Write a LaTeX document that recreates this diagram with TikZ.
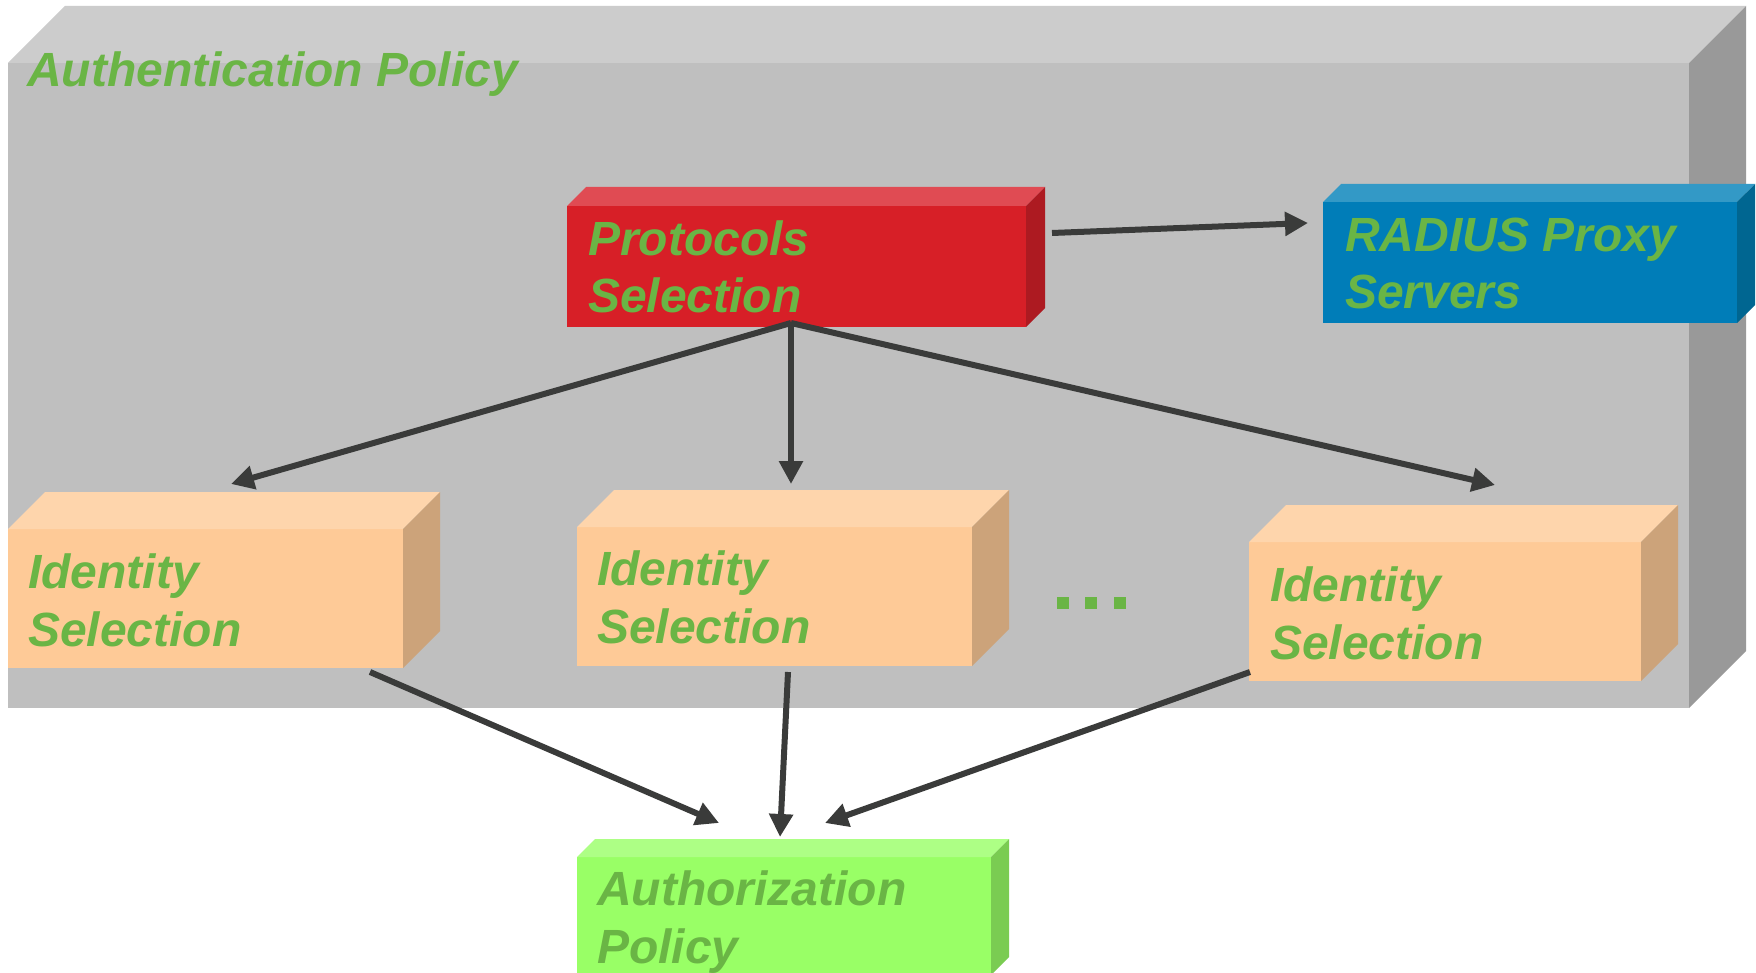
\documentclass[tikz,border=0pt]{standalone}
\usepackage{fontspec}
\setmainfont{Liberation Sans}
\usetikzlibrary{arrows.meta}
\definecolor{bigF}{HTML}{BFBFBF}
\definecolor{bigT}{HTML}{CCCCCC}
\definecolor{bigS}{HTML}{999999}
\definecolor{redF}{HTML}{D71F27}
\definecolor{redT}{HTML}{E04B53}
\definecolor{redS}{HTML}{AD1A21}
\definecolor{bluF}{HTML}{007DB8}
\definecolor{bluT}{HTML}{3399C6}
\definecolor{bluS}{HTML}{006691}
\definecolor{pchF}{HTML}{FECA97}
\definecolor{pchT}{HTML}{FED5AC}
\definecolor{pchS}{HTML}{CCA37A}
\definecolor{grnF}{HTML}{99FF66}
\definecolor{grnT}{HTML}{ADFF85}
\definecolor{grnS}{HTML}{7ACC52}
\definecolor{txtgreen}{HTML}{6AB545}
\definecolor{arrowgray}{HTML}{3A3B3A}
\newcommand\cuboidbox[9]{%
  \node[face, fill=#7, minimum width=#4, minimum height=#5] (#1) at (#2,#3) {};
  \fill[#8] (#1.north west) -- ++(#6,-#6) -- ++(#4,0) -- (#1.north east) -- cycle;
  \fill[#9] (#1.north east) -- ++(#6,-#6) -- ++(0,#5) -- (#1.south east) -- cycle;
}
\begin{document}
\begin{tikzpicture}[x=1pt,y=-1pt,
  face/.style={inner sep=0pt, outer sep=0pt, draw=none, anchor=north west},
  lbl/.style={inner sep=0pt, anchor=base west, align=left, text=txtgreen,
    font=\fontsize{48}{57.5}\selectfont\bfseries\itshape},
  arr/.style={draw=arrowgray, line width=6pt, -{Triangle[length=23pt,width=23pt]}}]
\useasboundingbox (0,0) rectangle (1756,973);
\clip (0,0) rectangle (1756,973);
\fill[white] (0,0) rectangle (1756,973);

\cuboidbox{authn}{8}{63}{1681}{645}{57}{bigF}{bigT}{bigS}
\cuboidbox{prot}{567}{206}{459}{121}{19}{redF}{redT}{redS}
\cuboidbox{radius}{1323}{202}{414}{121}{18}{bluF}{bluT}{bluS}
\cuboidbox{id1}{8}{529}{395}{139}{37}{pchF}{pchT}{pchS}
\cuboidbox{id2}{577}{527}{395}{139}{37}{pchF}{pchT}{pchS}
\cuboidbox{id3}{1249}{542}{392}{139}{37}{pchF}{pchT}{pchS}
\cuboidbox{authz}{577}{857}{414}{118}{18}{grnF}{grnT}{grnS}

% base anchor of a two-line label = baseline of its last line
\node[lbl] (authnT) at (27,87) {Authentication Policy};
\node[lbl] (protT) at (588,313) {Protocols\\Selection};
\node[lbl] (radT) at (1345,309) {RADIUS Proxy\\Servers};
\node[lbl] (id1T) at (28,646) {Identity\\Selection};
\node[lbl] (id2T) at (597,643) {Identity\\Selection};
\node[lbl] (id3T) at (1270,659) {Identity\\Selection};
\node[lbl] (authzT) at (597,963) {Authorization\\Policy};

\fill[txtgreen] (1057,597) rectangle ++(12,12);
\fill[txtgreen] (1085,597) rectangle ++(12,12);
\fill[txtgreen] (1114,597) rectangle ++(12,12);

\coordinate (pr1) at (1052,233);
\coordinate (pr2) at (1308,223);
\coordinate (split) at (791,323);
\coordinate (t1) at (231,484);
\coordinate (t2) at (791,484);
\coordinate (t3) at (1495,485);
\coordinate (b1s) at (370,672);
\coordinate (b1e) at (719,823);
\coordinate (b2s) at (788,672);
\coordinate (b2e) at (780,837);
\coordinate (b3s) at (1250,672);
\coordinate (b3e) at (825,823);

\draw[arr] (pr1) -- (pr2);
\draw[arr] (split) -- (t1);
\draw[arr] (split) -- (t2);
\draw[arr] (split) -- (t3);
\draw[arr] (b1s) -- (b1e);
\draw[arr] (b2s) -- (b2e);
\draw[arr] (b3s) -- (b3e);
\end{tikzpicture}
\end{document}
